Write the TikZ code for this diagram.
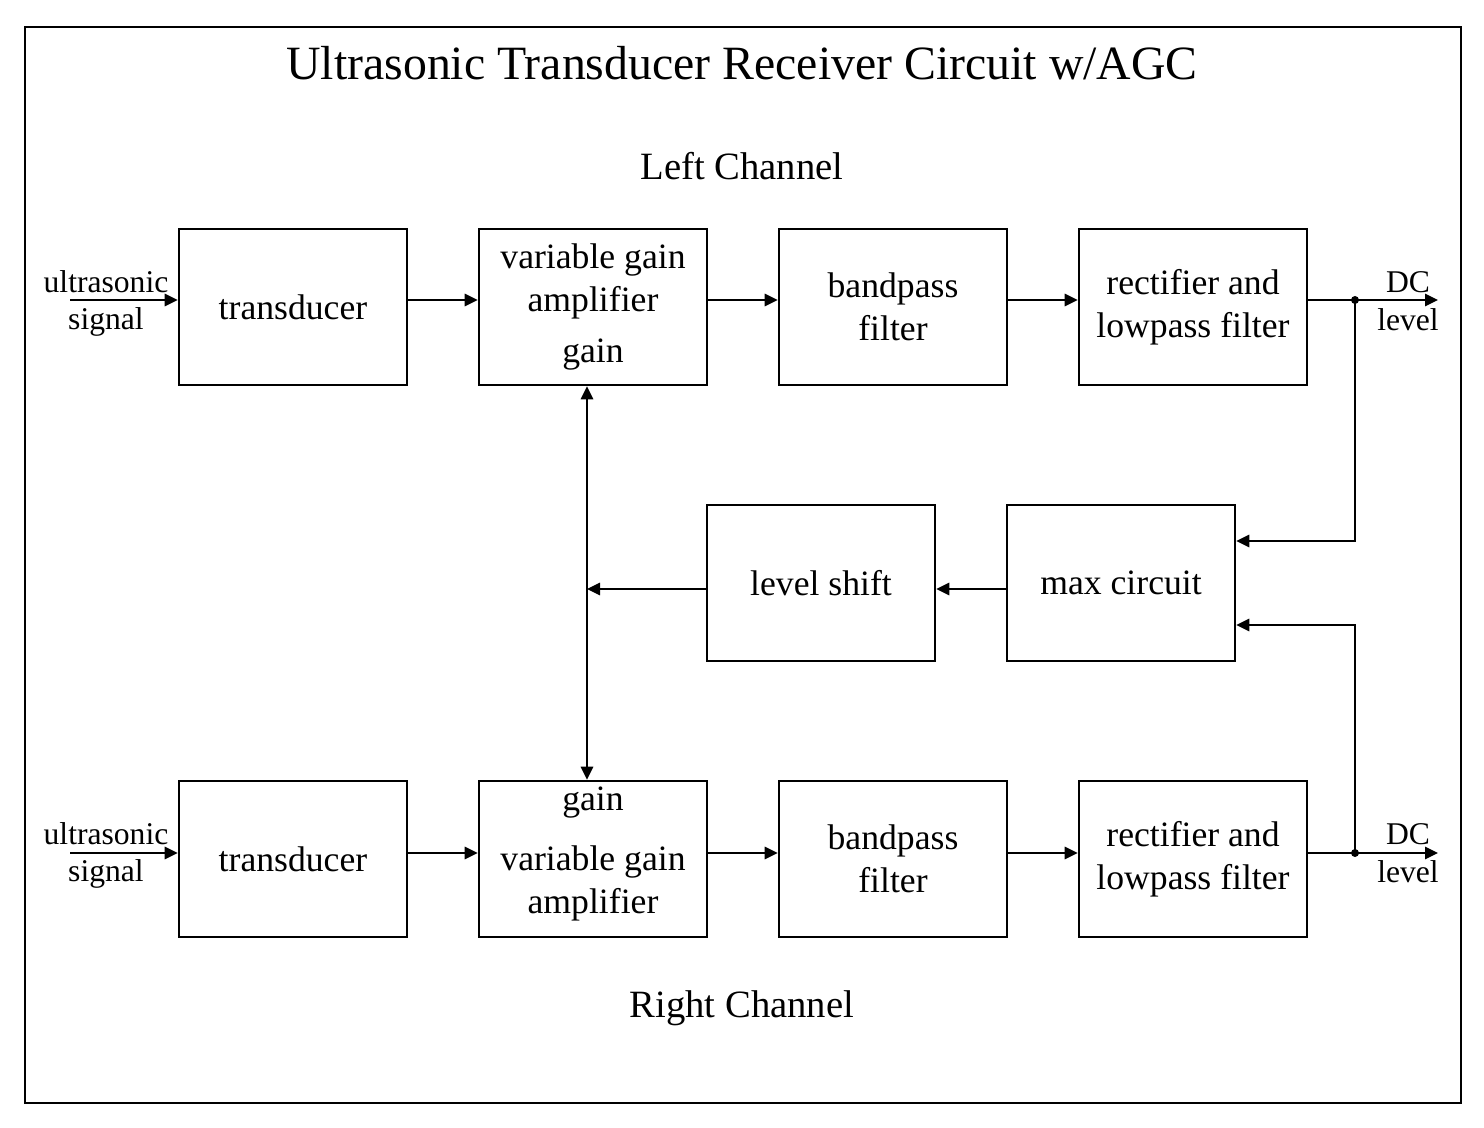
\documentclass[tikz,border=0pt]{standalone}
\usepackage{fontspec}
\setmainfont{Liberation Serif}
\usetikzlibrary{
	arrows.meta,
	calc
}
\tikzset{
	bloque/.style={
		draw=black,
		line width=1.5pt,
		minimum width=4.56cm,
		minimum height=3.12cm,
		align=center,
		inner sep=2pt,
		font=\fontsize{20.3}{24.4}\selectfont
	},
	texto/.style={
		align=center,
		inner sep=0pt,
		font=\fontsize{20.3}{24.4}\selectfont
	},
	rotulo/.style={
		align=center,
		inner sep=0pt,
		font=\fontsize{18}{21.6}\selectfont
	},
	canal/.style={
		inner sep=0pt,
		font=\fontsize{22}{26}\selectfont
	},
	flecha/.style={
		-{Triangle[length=2.6mm,width=2.5mm]},
		line width=0.8pt
	},
	linea/.style={
		line width=0.8pt
	},
	nodo/.style={
		circle,
		fill=black,
		inner sep=0pt,
		minimum size=0.16cm
	}
}
\begin{document}
\begin{tikzpicture}[x=0.02cm,y=-0.02cm]
	\useasboundingbox (0,0) rectangle (1484,1128);
	\draw[line width=1.6pt] (25,27) rectangle (1461,1103);
	\node[inner sep=0pt, font=\fontsize{27.2}{32}\selectfont] (titulo) at (742,63) {Ultrasonic Transducer Receiver Circuit w/AGC};
	\node[canal] (izq) at (742,166) {Left Channel};
	\node[canal] (der) at (742,1008) {Right Channel};
	% canal izquierdo
	\node[bloque] (trl) at (293,307) {transducer};
	\node[bloque] (vgl) at (593,307) {variable gain\\amplifier\\[5pt]gain};
	\node[bloque] (bpl) at (893,307) {bandpass\\filter};
	\node[bloque] (rcl) at (1193,307) {rectifier and\\lowpass filter};
	% canal derecho
	\node[bloque] (trr) at (293,859) {transducer};
	\node[bloque] (vgr) at (593,859) {};
	\node[texto] (vgrt) at (593,854) {gain\\[10pt]variable gain\\amplifier};
	\node[bloque] (bpr) at (893,859) {bandpass\\filter};
	\node[bloque] (rcr) at (1193,859) {rectifier and\\lowpass filter};
	% control de ganancia
	\node[bloque] (lsh) at (821,583) {level shift};
	\node[bloque] (max) at (1121,583) {max circuit};
	% entradas y salidas
	\coordinate (inl) at (70,300);
	\coordinate (inr) at (70,853);
	\coordinate (outl) at (1438,300);
	\coordinate (outr) at (1438,853);
	\node[rotulo] (usl) at (106,282) {ultrasonic};
	\node[rotulo] (sgl) at (106,322) {signal};
	\node[rotulo] (usr) at (106,834) {ultrasonic};
	\node[rotulo] (sgr) at (106,874) {signal};
	\node[rotulo] (dcl) at (1408,282) {DC};
	\node[rotulo] (lvl) at (1408,320) {level};
	\node[rotulo] (dcr) at (1408,834) {DC};
	\node[rotulo] (lvr) at (1408,872) {level};
	\draw[flecha] (inl) -- (inl -| trl.west);
	\draw[flecha] (inr) -- (inr -| trr.west);
	\foreach \a/\b in {trl/vgl,vgl/bpl,bpl/rcl}
		\draw[flecha] ([yshift=0.14cm]\a.east) -- ([yshift=0.14cm]\b.west);
	\foreach \a/\b in {trr/vgr,vgr/bpr,bpr/rcr}
		\draw[flecha] ([yshift=0.12cm]\a.east) -- ([yshift=0.12cm]\b.west);
	\draw[flecha] (rcl.east |- outl) -- (outl);
	\draw[flecha] (rcr.east |- outr) -- (outr);
	\node[nodo] (tapl) at (1355,300) {};
	\node[nodo] (tapr) at (1355,853) {};
	\draw[flecha] (tapl.center) |- ([yshift=0.84cm]max.east);
	\draw[flecha] (tapr.center) |- ([yshift=-0.84cm]max.east);
	% lazo de realimentacion
	\coordinate (bus) at ([xshift=-0.12cm]vgl.south);
	\coordinate (lsin) at ([yshift=-0.12cm]lsh.west);
	\draw[flecha] ([yshift=-0.12cm]max.west) -- ([yshift=-0.12cm]lsh.east);
	\draw[flecha] (lsin) -- (bus |- lsin);
	\draw[{Triangle[length=2.6mm,width=2.5mm]}-{Triangle[length=2.6mm,width=2.5mm]}, linea] (bus) -- (bus |- vgr.north);
\end{tikzpicture}
\end{document}
